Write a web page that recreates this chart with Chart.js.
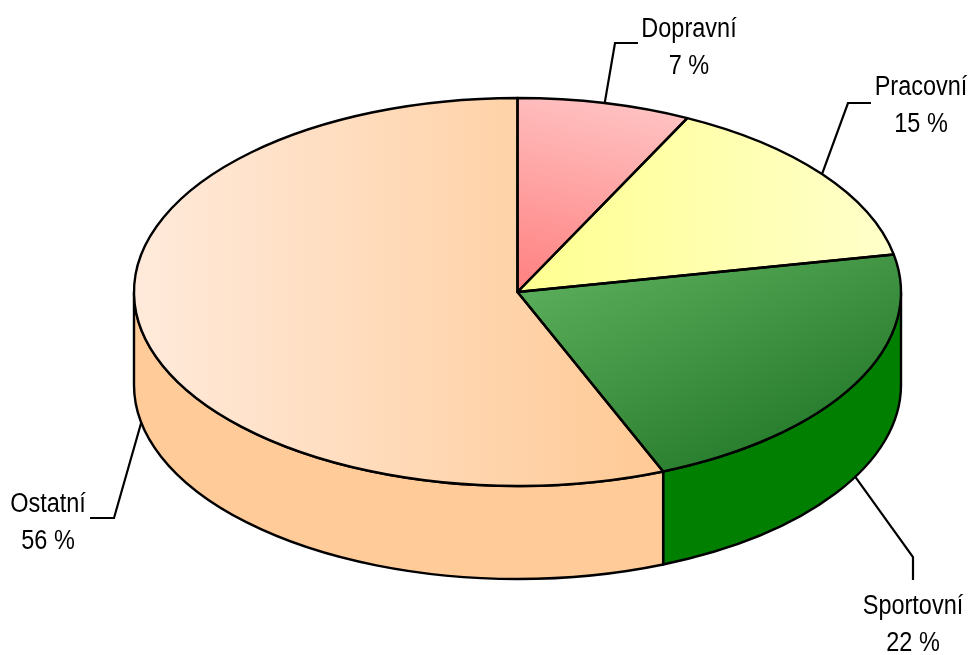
<!DOCTYPE html>
<html><head><meta charset="utf-8">
<script src="https://cdn.jsdelivr.net/npm/chart.js@4/dist/chart.umd.min.js"></script>
<style>html,body{margin:0;padding:0;background:#fff;overflow:hidden}canvas{display:block}</style>
</head><body>
<canvas id="c" width="973" height="655"></canvas>
<script>
// ---- data ----
const categories = ['Dopravní', 'Pracovní', 'Sportovní', 'Ostatní'];
const values = [7.3, 14.6, 21.9, 56.2];
const valueSuffix = ' %';

// ---- style / layout ----
const CX = 517.5, CY = 292, RX = 383.5, RY = 194, DEPTH = 93;
const wallColors = ['#ff8080', '#ffff99', '#007f00', '#ffcc99'];
// gradient for each top face: [x0,y0,x1,y1] in units of radius from centre, then stops
const topGradients = [
  { p: [0, 0, 0.44, -0.98], c: ['#ff7f7f', '#ffc6c6'] },
  { p: [0, 0, 1, 0], c: ['#ffff90', '#ffffcc'] },
  { p: [0.1, -0.1, 0.85, 0.75], c: ['#5aad5a', '#24792a'] },
  { p: [-1, 0, 0.35, 0], c: ['#ffeadb', '#ffca96'] }
];
// leader line elbow/end and text (centre x, baseline of first line)
const labelLayout = [
  { elbow: [615, 43], end: [638, 43], tx: 689, ty: 37 },
  { elbow: [848, 103], end: [871, 103], tx: 921, ty: 95 },
  { elbow: [913, 557], end: [913, 580], tx: 913, ty: 614 },
  { elbow: [114, 518], end: [90, 518], tx: 48, ty: 512 }
];
const LINE_GAP = 37;
const FONT = '27px "Liberation Sans", Arial, Helvetica, sans-serif';
const TEXT_SCALE_X = 0.87;

function faceGradient(context) {
  const chart = context.chart;
  const a = chart.chartArea;
  if (!a) return wallColors[context.dataIndex];
  const x = (a.left + a.right) / 2, y = (a.top + a.bottom) / 2;
  const R = Math.min(a.right - a.left, a.bottom - a.top) / 2;
  const g = topGradients[context.dataIndex];
  const grad = chart.ctx.createLinearGradient(x + g.p[0] * R, y + g.p[1] * R, x + g.p[2] * R, y + g.p[3] * R);
  grad.addColorStop(0, g.c[0]);
  grad.addColorStop(1, g.c[1]);
  return grad;
}

const pie3d = {
  id: 'pie3d',
  beforeDatasetsDraw(chart) {
    const ctx = chart.ctx;
    const arcs = chart.getDatasetMeta(0).data;
    // side walls (front half only: canvas angles 0..PI)
    ctx.save();
    ctx.lineWidth = 2.4;
    ctx.strokeStyle = '#000';
    ctx.lineJoin = 'round';
    arcs.forEach((arc, i) => {
      const ranges = [[0, Math.PI], [2 * Math.PI, 3 * Math.PI]];
      ranges.forEach(([lo, hi]) => {
        const a1 = Math.max(arc.startAngle, lo), a2 = Math.min(arc.endAngle, hi);
        if (a2 <= a1) return;
        ctx.beginPath();
        ctx.ellipse(CX, CY, RX, RY, 0, a1, a2);
        ctx.lineTo(CX + RX * Math.cos(a2), CY + RY * Math.sin(a2) + DEPTH);
        ctx.ellipse(CX, CY + DEPTH, RX, RY, 0, a2, a1, true);
        ctx.closePath();
        ctx.fillStyle = wallColors[i];
        ctx.fill();
        ctx.stroke();
      });
    });
    ctx.restore();
    // squash the library's circular pie into the top ellipse
    const a0 = arcs[0];
    ctx.save();
    ctx.translate(CX, CY);
    ctx.scale(RX / a0.outerRadius, RY / a0.outerRadius);
    ctx.translate(-a0.x, -a0.y);
  },
  afterDatasetsDraw(chart) {
    const ctx = chart.ctx;
    ctx.restore();
    const arcs = chart.getDatasetMeta(0).data;
    ctx.save();
    ctx.lineWidth = 2.4;
    ctx.strokeStyle = '#000';
    ctx.lineJoin = 'round';
    arcs.forEach(arc => {
      ctx.beginPath();
      ctx.moveTo(CX, CY);
      ctx.lineTo(CX + RX * Math.cos(arc.startAngle), CY + RY * Math.sin(arc.startAngle));
      ctx.ellipse(CX, CY, RX, RY, 0, arc.startAngle, arc.endAngle);
      ctx.closePath();
      ctx.stroke();
    });
    // labels with leader lines
    const ds = chart.data.datasets[0];
    const total = ds.data.reduce((s, v) => s + v, 0);
    ctx.lineWidth = 2.2;
    ctx.lineJoin = 'miter';
    ctx.font = FONT;
    ctx.fillStyle = '#000';
    ctx.textAlign = 'center';
    ctx.textBaseline = 'alphabetic';
    arcs.forEach((arc, i) => {
      const m = (arc.startAngle + arc.endAngle) / 2;
      const front = Math.sin(m) > 0;
      const ax = CX + RX * Math.cos(m);
      const ay = CY + RY * Math.sin(m) + (front ? DEPTH : 0);
      const L = labelLayout[i];
      ctx.beginPath();
      ctx.moveTo(ax, ay);
      ctx.lineTo(L.elbow[0], L.elbow[1]);
      ctx.lineTo(L.end[0], L.end[1]);
      ctx.stroke();
      const pct = Math.round(ds.data[i] / total * 100);
      const lines = [chart.data.labels[i], pct + valueSuffix];
      lines.forEach((t, k) => {
        ctx.save();
        ctx.translate(L.tx, L.ty + k * LINE_GAP);
        ctx.scale(TEXT_SCALE_X, 1);
        ctx.fillText(t, 0, 0);
        ctx.restore();
      });
    });
    ctx.restore();
  }
};

new Chart(document.getElementById('c'), {
  type: 'pie',
  data: {
    labels: categories,
    datasets: [{
      data: values,
      backgroundColor: faceGradient,
      borderWidth: 0,
      hoverOffset: 0
    }]
  },
  options: {
    responsive: false,
    animation: false,
    events: [],
    layout: { padding: 0 },
    plugins: { legend: { display: false }, tooltip: { enabled: false } }
  },
  plugins: [pie3d]
});
</script>
</body></html>
